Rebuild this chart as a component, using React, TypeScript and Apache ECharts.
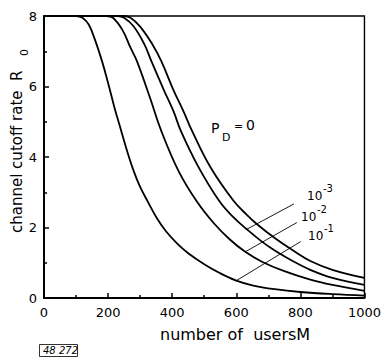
import React, { useEffect, useRef } from "react";
import * as echarts from "echarts";

// number of users M (x) and channel cutoff rate R0 (y)
const curveP01: [number, number][] = [
  [0, 8], [100, 8], [120, 7.95], [140, 7.75], [160, 7.3], [181, 6.72], [200, 6.1],
  [220, 5.4], [241, 4.74], [260, 4.15], [280, 3.6], [300, 3.15], [323, 2.75],
  [350, 2.3], [380, 1.9], [415, 1.55], [450, 1.27], [500, 0.96], [550, 0.7],
  [598, 0.5], [650, 0.36], [720, 0.25], [800, 0.17], [900, 0.11], [1000, 0.07],
];
const curveP02: [number, number][] = [
  [0, 8], [195, 8], [215, 7.95], [245, 7.6], [270, 7.1], [290, 6.72], [330, 5.7],
  [366, 4.74], [420, 3.6], [476, 2.75], [530, 2.12], [580, 1.66], [628, 1.31],
  [680, 1.03], [750, 0.76], [831, 0.52], [900, 0.37], [1000, 0.2],
];
const curveP03: [number, number][] = [
  [0, 8], [230, 8], [250, 7.95], [280, 7.7], [313, 7.2], [335, 6.72], [374, 5.9],
  [404, 5.3], [427, 4.74], [480, 3.75], [547, 2.75], [590, 2.3], [633, 1.95],
  [680, 1.6], [720, 1.35], [780, 1.03], [831, 0.8], [900, 0.57], [1000, 0.37],
];
const curveP0: [number, number][] = [
  [0, 8], [250, 8], [270, 7.95], [300, 7.7], [338, 7.2], [366, 6.72], [404, 5.9],
  [435, 5.3], [462, 4.74], [520, 3.7], [592, 2.75], [633, 2.36], [664, 2.1],
  [720, 1.7], [780, 1.33], [831, 1.05], [900, 0.8], [1000, 0.57],
];
// leader lines from the curves to the labels
const leader01: [number, number][] = [[598, 0.48], [801, 1.6]];
const leader02: [number, number][] = [[628, 1.31], [789, 2.14]];
const leader03: [number, number][] = [[633, 1.95], [780, 2.67]];

const xTicks = { min: 0, max: 1000, interval: 200 };
const yTicks = { min: 0, max: 8, interval: 2 };

const FONT = "DejaVu Sans";

export default function App() {
  const ref = useRef<HTMLDivElement>(null);
  useEffect(() => {
    if (!ref.current) return;
    const chart = echarts.init(ref.current, undefined, { renderer: "svg" });
    const curve = (data: [number, number][]) => ({
      type: "line",
      data,
      smooth: 0.4,
      showSymbol: false,
      symbol: "none",
      lineStyle: { color: "#000", width: 1.8 },
      z: 3,
    });
    const lead = (data: [number, number][]) => ({
      type: "line",
      data,
      showSymbol: false,
      symbol: "none",
      lineStyle: { color: "#000", width: 0.9 },
      z: 2,
    });
    const t = (text: string, x: number, y: number, size: number, extra: any = {}) => ({
      type: "text",
      x,
      y,
      style: { text, font: `${size}px "${FONT}"`, fill: "#000", ...extra },
    });
    chart.setOption({
      animation: false,
      backgroundColor: "#fff",
      grid: {
        left: 44, top: 16, right: 12, bottom: 61,
        show: true, borderColor: "#000", borderWidth: 1.4, backgroundColor: "transparent",
      },
      xAxis: {
        type: "value",
        ...xTicks,
        axisLine: { show: true, lineStyle: { color: "#000", width: 2 } },
        axisTick: { show: true, inside: true, length: 5, lineStyle: { color: "#000", width: 1.5 } },
        minorTick: { show: true, splitNumber: 2, length: 3, lineStyle: { color: "#000", width: 1.5 } },
        splitLine: { show: false },
        axisLabel: { color: "#000", fontSize: 13, fontFamily: FONT, margin: 8, formatter: (v: number) => String(v) },
      },
      yAxis: {
        type: "value",
        ...yTicks,
        axisLine: { show: true, lineStyle: { color: "#000", width: 2 } },
        axisTick: { show: true, inside: true, length: 5, lineStyle: { color: "#000", width: 1.5 } },
        minorTick: { show: true, splitNumber: 2, length: 3, lineStyle: { color: "#000", width: 1.5 } },
        splitLine: { show: false },
        axisLabel: { color: "#000", fontSize: 13, fontFamily: FONT, margin: 7, formatter: (v: number) => String(v) },
      },
      series: [
        curve(curveP01), curve(curveP02), curve(curveP03), curve(curveP0),
        lead(leader01), lead(leader02), lead(leader03),
      ],
      graphic: [
        { ...t("channel cutoff rate  R", 17, 233, 15, { align: "left", verticalAlign: "middle" }), rotation: Math.PI / 2 },
        { ...t("0", 24, 56, 11, { align: "left", verticalAlign: "middle" }), rotation: Math.PI / 2 },
        t("P", 211, 121, 14),
        t("D", 222, 132, 11),
        t("=", 234, 121, 11),
        t("0", 246, 118, 14),
        t("10", 307, 190, 12),
        t("-3", 323, 183, 10),
        t("10", 301, 211, 12),
        t("-2", 317, 204, 10),
        t("10", 308, 230, 12),
        t("-1", 324, 223, 10),
        t("number of  usersM", 160, 326, 16),
        { type: "rect", shape: { x: 39.5, y: 344.5, width: 38, height: 12 }, style: { fill: "none", stroke: "#000", lineWidth: 0.8 } },
        t("48 272", 43, 345, 10, { font: `italic 10px "${FONT}"` }),
      ],
    });
    return () => chart.dispose();
  }, []);
  return <div ref={ref} style={{ width: 384, height: 359, position: "fixed", left: 0, top: 0 }} />;
}
